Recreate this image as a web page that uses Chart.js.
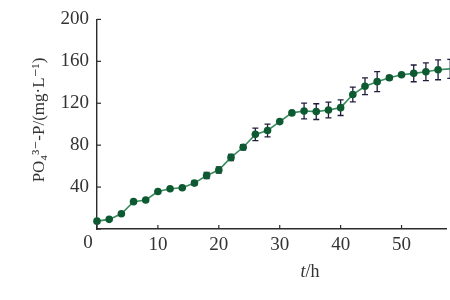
<!DOCTYPE html>
<html>
<head>
<meta charset="utf-8">
<script src="https://cdn.jsdelivr.net/npm/chart.js@4/dist/chart.umd.min.js"></script>
<style>
  html, body { margin: 0; padding: 0; background: #fff; }
  #wrap { width: 450px; height: 300px; }
</style>
</head>
<body>
<div id="wrap"><canvas id="po4-chart"></canvas></div>
<script>
// time (h)
var hours = [0, 2, 4, 6, 8, 10, 12, 14, 16, 18, 20, 22, 24, 26, 28,
             30, 32, 34, 36, 38, 40, 42, 44, 46, 48, 50, 52, 54, 56, 58];
// PO4-P concentration (mg/L)
var po4 = [7.5, 9.2, 14.5, 26.1, 27.7, 35.8, 38.4, 39.3, 43.8, 51, 56.3, 68.3, 78, 90.3, 94,
           102.5, 110.8, 112.6, 112, 113.6, 115.8, 128.3, 136.2, 140.6, 144.3, 147.2, 148.5, 150, 151.9, 152.8];
// error (+/-)
var po4Err = [0, 0, 0, 0, 0, 0, 0, 0, 2, 3, 3, 3, 2.5, 6, 6,
              0, 0, 7.5, 7.5, 7.5, 7.5, 7, 8, 9.5, 2, 0, 8, 8.5, 9.5, 9];
var xTicks = [0, 10, 20, 30, 40, 50];
var yTicks = [0, 40, 80, 120, 160, 200];

var serif = '"Liberation Serif", "DejaVu Serif", serif';
var axisColor = '#2b2b2b';

var points = hours.map(function(h, i) { return { x: h, y: po4[i] }; });

// error bars + inner tick marks + axis titles
var extras = {
    id: 'extras',
    beforeDatasetsDraw: function(chart) {
        var c = chart.ctx, xs = chart.scales.x, ys = chart.scales.y;
        c.save();
        c.strokeStyle = '#1e1e3c';
        c.lineWidth = 1.3;
        hours.forEach(function(h, i) {
            if (!po4Err[i]) return;
            var px = xs.getPixelForValue(h);
            var top = ys.getPixelForValue(po4[i] + po4Err[i]);
            var bot = ys.getPixelForValue(po4[i] - po4Err[i]);
            c.beginPath();
            c.moveTo(px, top); c.lineTo(px, bot);
            c.moveTo(px - 3, top); c.lineTo(px + 3, top);
            c.moveTo(px - 3, bot); c.lineTo(px + 3, bot);
            c.stroke();
        });
        c.restore();
    },
    afterDraw: function(chart) {
        var c = chart.ctx, xs = chart.scales.x, ys = chart.scales.y;
        var area = chart.chartArea;
        c.save();
        c.strokeStyle = axisColor;
        c.lineWidth = 1.2;
        xTicks.forEach(function(v) {
            var px = xs.getPixelForValue(v);
            c.beginPath(); c.moveTo(px, area.bottom); c.lineTo(px, area.bottom - 4); c.stroke();
        });
        yTicks.forEach(function(v) {
            var py = ys.getPixelForValue(v);
            c.beginPath(); c.moveTo(area.left, py); c.lineTo(area.left + 4, py); c.stroke();
        });

        c.fillStyle = '#333';
        c.textBaseline = 'middle';
        // shared origin label
        c.font = '19px ' + serif;
        c.textAlign = 'center';
        c.fillText('0', xs.getPixelForValue(0) - 9, area.bottom + 14);

        // x title: italic t + /h
        var ty = 272;
        c.font = 'italic 18px ' + serif;
        var wT = c.measureText('t').width;
        c.font = '18px ' + serif;
        var wH = c.measureText('/h').width;
        var sx = 310 - (wT + wH) / 2;
        c.textAlign = 'left';
        c.font = 'italic 18px ' + serif;
        c.fillText('t', sx, ty);
        c.font = '18px ' + serif;
        c.fillText('/h', sx + wT, ty);

        // y title
        c.translate(40, 120);
        c.rotate(-Math.PI / 2);
        c.textAlign = 'center';
        c.font = '17px ' + serif;
        c.fillText('PO\u2084\u00B3\u207B-P/(mg\u00B7L\u207B\u00B9)', 0, 0);
        c.restore();
    }
};

new Chart(document.getElementById('po4-chart'), {
    type: 'line',
    data: {
        datasets: [{
            data: points,
            borderColor: '#3a8a5e',
            borderWidth: 1.6,
            backgroundColor: '#0d5a32',
            pointBackgroundColor: '#0d5a32',
            pointBorderColor: '#0d5a32',
            pointRadius: 3.8,
            pointBorderWidth: 0,
            tension: 0,
            clip: false
        }]
    },
    options: {
        responsive: true,
        maintainAspectRatio: false,
        animation: false,
        layout: { padding: { top: 16, right: 0, left: 0, bottom: 0 } },
        plugins: { legend: { display: false }, tooltip: { enabled: false } },
        scales: {
            x: {
                type: 'linear',
                min: 0,
                max: 57.3,
                afterBuildTicks: function(scale) {
                    scale.ticks = xTicks.map(function(v) { return { value: v }; });
                },
                afterFit: function(scale) { scale.height = 71; },
                grid: { display: false, drawTicks: false },
                border: { display: true, color: axisColor, width: 1.4 },
                ticks: {
                    padding: 5,
                    color: '#333',
                    maxRotation: 0,
                    font: { family: serif, size: 19 },
                    callback: function(v) { return v === 0 ? '' : v; }
                }
            },
            y: {
                min: 0,
                max: 200,
                afterBuildTicks: function(scale) {
                    scale.ticks = yTicks.map(function(v) { return { value: v }; });
                },
                afterFit: function(scale) { scale.width = 97; },
                grid: { display: false, drawTicks: false },
                border: { display: true, color: axisColor, width: 1.4 },
                ticks: {
                    padding: 8,
                    color: '#333',
                    font: { family: serif, size: 19 },
                    callback: function(v) { return v === 0 ? '' : v; }
                }
            }
        }
    },
    plugins: [extras]
});
</script>
</body>
</html>
